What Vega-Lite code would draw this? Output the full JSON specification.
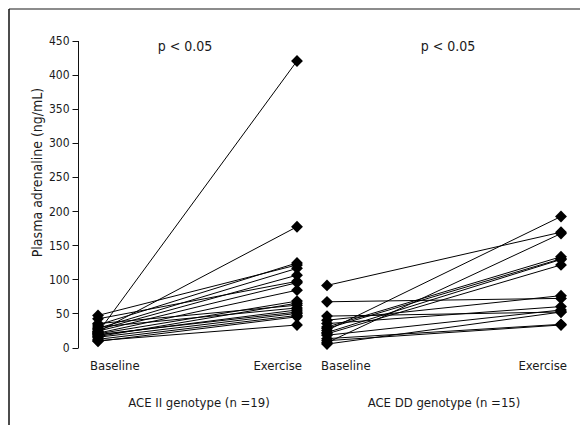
{
  "$schema": "https://vega.github.io/schema/vega-lite/v6.json",
  "width": 571,
  "height": 416,
  "padding": {"left": 9, "top": 9, "right": 0, "bottom": 0},
  "autosize": {"type": "none"},
  "background": "white",
  "config": {
    "view": {"stroke": null},
    "font": "DejaVu Sans Condensed, sans-serif",
    "text": {"font": "DejaVu Sans Condensed, sans-serif", "color": "#1a1a1a", "fontSize": 13}
  },
  "datasets": {
    "ii": [
      {"subject": 1, "time": "Baseline", "value": 47}, {"subject": 1, "time": "Exercise", "value": 121},
      {"subject": 2, "time": "Baseline", "value": 42}, {"subject": 2, "time": "Exercise", "value": 97},
      {"subject": 3, "time": "Baseline", "value": 35}, {"subject": 3, "time": "Exercise", "value": 62},
      {"subject": 4, "time": "Baseline", "value": 33}, {"subject": 4, "time": "Exercise", "value": 124},
      {"subject": 5, "time": "Baseline", "value": 30}, {"subject": 5, "time": "Exercise", "value": 58},
      {"subject": 6, "time": "Baseline", "value": 28}, {"subject": 6, "time": "Exercise", "value": 116},
      {"subject": 7, "time": "Baseline", "value": 26}, {"subject": 7, "time": "Exercise", "value": 106},
      {"subject": 8, "time": "Baseline", "value": 24}, {"subject": 8, "time": "Exercise", "value": 95},
      {"subject": 9, "time": "Baseline", "value": 22}, {"subject": 9, "time": "Exercise", "value": 420},
      {"subject": 10, "time": "Baseline", "value": 23}, {"subject": 10, "time": "Exercise", "value": 177},
      {"subject": 11, "time": "Baseline", "value": 21}, {"subject": 11, "time": "Exercise", "value": 84},
      {"subject": 12, "time": "Baseline", "value": 20}, {"subject": 12, "time": "Exercise", "value": 68},
      {"subject": 13, "time": "Baseline", "value": 19}, {"subject": 13, "time": "Exercise", "value": 52},
      {"subject": 14, "time": "Baseline", "value": 18}, {"subject": 14, "time": "Exercise", "value": 55},
      {"subject": 15, "time": "Baseline", "value": 16}, {"subject": 15, "time": "Exercise", "value": 65},
      {"subject": 16, "time": "Baseline", "value": 15}, {"subject": 16, "time": "Exercise", "value": 50},
      {"subject": 17, "time": "Baseline", "value": 12}, {"subject": 17, "time": "Exercise", "value": 47},
      {"subject": 18, "time": "Baseline", "value": 10}, {"subject": 18, "time": "Exercise", "value": 33},
      {"subject": 19, "time": "Baseline", "value": 9}, {"subject": 19, "time": "Exercise", "value": 45}
    ],
    "dd": [
      {"subject": 1, "time": "Baseline", "value": 91}, {"subject": 1, "time": "Exercise", "value": 169},
      {"subject": 2, "time": "Baseline", "value": 67}, {"subject": 2, "time": "Exercise", "value": 72},
      {"subject": 3, "time": "Baseline", "value": 46}, {"subject": 3, "time": "Exercise", "value": 52},
      {"subject": 4, "time": "Baseline", "value": 40}, {"subject": 4, "time": "Exercise", "value": 76},
      {"subject": 5, "time": "Baseline", "value": 35}, {"subject": 5, "time": "Exercise", "value": 60},
      {"subject": 6, "time": "Baseline", "value": 30}, {"subject": 6, "time": "Exercise", "value": 133},
      {"subject": 7, "time": "Baseline", "value": 28}, {"subject": 7, "time": "Exercise", "value": 130},
      {"subject": 8, "time": "Baseline", "value": 25}, {"subject": 8, "time": "Exercise", "value": 192},
      {"subject": 9, "time": "Baseline", "value": 22}, {"subject": 9, "time": "Exercise", "value": 129},
      {"subject": 10, "time": "Baseline", "value": 20}, {"subject": 10, "time": "Exercise", "value": 121},
      {"subject": 11, "time": "Baseline", "value": 18}, {"subject": 11, "time": "Exercise", "value": 55},
      {"subject": 12, "time": "Baseline", "value": 13}, {"subject": 12, "time": "Exercise", "value": 34},
      {"subject": 13, "time": "Baseline", "value": 10}, {"subject": 13, "time": "Exercise", "value": 33},
      {"subject": 14, "time": "Baseline", "value": 7}, {"subject": 14, "time": "Exercise", "value": 167},
      {"subject": 15, "time": "Baseline", "value": 5}, {"subject": 15, "time": "Exercise", "value": 52}
    ],
    "phases": [
      {"panel": "II", "time": "Baseline"}, {"panel": "II", "time": "Exercise"},
      {"panel": "DD", "time": "Baseline"}, {"panel": "DD", "time": "Exercise"}
    ]
  },
  "layer": [
    {
      "data": {"values": [{"edge": "top"}]},
      "mark": {"type": "rule", "color": "#666", "strokeWidth": 1.5},
      "encoding": {
        "y": {"datum": 1, "type": "quantitative", "scale": {"domain": [0, 1]}, "axis": null}
      }
    },
    {
      "data": {"values": [{"edge": "left"}]},
      "mark": {"type": "rule", "color": "#111", "strokeWidth": 1.5},
      "encoding": {
        "x": {"datum": 0, "type": "quantitative", "scale": {"domain": [0, 1]}, "axis": null}
      }
    },
    {
      "data": {"name": "ii"},
      "encoding": {
        "x": {"field": "time", "type": "nominal", "scale": {"type": "point", "domain": ["Baseline", "Exercise"], "range": [89, 288], "padding": 0}, "axis": null},
        "y": {
          "field": "value", "type": "quantitative",
          "scale": {"domain": [0, 450], "range": [338.5, 31.5], "nice": false, "zero": false},
          "axis": {
            "values": [0, 50, 100, 150, 200, 250, 300, 350, 400, 450],
            "offset": -69,
            "grid": false,
            "domainColor": "#111",
            "tickColor": "#111",
            "tickSize": 6,
            "labelFont": "DejaVu Sans Condensed, sans-serif",
            "labelFontSize": 12,
            "labelColor": "#1a1a1a",
            "labelPadding": 3,
            "title": "Plasma adrenaline (ng/mL)",
            "titleFont": "DejaVu Sans Condensed, sans-serif",
            "titleFontSize": 14,
            "titleFontWeight": "normal",
            "titleColor": "#1a1a1a",
            "titleAngle": -90,
            "titleAlign": "center",
            "titleBaseline": "middle",
            "titleX": -41,
            "titleY": 163
          }
        }
      },
      "layer": [
        {"mark": {"type": "line", "color": "black", "strokeWidth": 1}, "encoding": {"detail": {"field": "subject", "type": "nominal"}}},
        {"mark": {"type": "point", "shape": "diamond", "filled": true, "color": "black", "opacity": 1, "size": 140}}
      ]
    },
    {
      "data": {"name": "dd"},
      "encoding": {
        "x": {"field": "time", "type": "nominal", "scale": {"type": "point", "domain": ["Baseline", "Exercise"], "range": [318, 552], "padding": 0}, "axis": null},
        "y": {"field": "value", "type": "quantitative", "scale": {"domain": [0, 450], "range": [338.5, 31.5], "nice": false, "zero": false}, "axis": null}
      },
      "layer": [
        {"mark": {"type": "line", "color": "black", "strokeWidth": 1}, "encoding": {"detail": {"field": "subject", "type": "nominal"}}},
        {"mark": {"type": "point", "shape": "diamond", "filled": true, "color": "black", "opacity": 1, "size": 140}}
      ]
    },
    {
      "data": {"name": "phases"},
      "transform": [{"filter": "datum.time === 'Baseline'"}],
      "mark": {"type": "text", "align": "left", "baseline": "middle"},
      "encoding": {
        "x": {"field": "panel", "type": "nominal", "scale": {"type": "point", "domain": ["II", "DD"], "range": [81, 312], "padding": 0}, "axis": null},
        "y": {"datum": -27, "type": "quantitative", "scale": {"domain": [0, 450], "range": [338.5, 31.5], "nice": false, "zero": false}, "axis": null},
        "text": {"field": "time"}
      }
    },
    {
      "data": {"name": "phases"},
      "transform": [{"filter": "datum.time === 'Exercise'"}],
      "mark": {"type": "text", "align": "right", "baseline": "middle"},
      "encoding": {
        "x": {"field": "panel", "type": "nominal", "scale": {"type": "point", "domain": ["II", "DD"], "range": [293, 558], "padding": 0}, "axis": null},
        "y": {"datum": -27, "type": "quantitative", "scale": {"domain": [0, 450], "range": [338.5, 31.5], "nice": false, "zero": false}, "axis": null},
        "text": {"field": "time"}
      }
    },
    {
      "data": {"values": [{"genotype": "ACE II genotype (n =19)"}, {"genotype": "ACE DD genotype (n =15)"}]},
      "mark": {"type": "text", "align": "center", "baseline": "middle"},
      "encoding": {
        "x": {"field": "genotype", "type": "nominal", "scale": {"type": "point", "domain": ["ACE II genotype (n =19)", "ACE DD genotype (n =15)"], "range": [190, 435], "padding": 0}, "axis": null},
        "y": {"datum": -81, "type": "quantitative", "scale": {"domain": [0, 450], "range": [338.5, 31.5], "nice": false, "zero": false}, "axis": null},
        "text": {"field": "genotype"}
      }
    },
    {
      "data": {"values": [{"genotype": "II", "label": "p < 0.05"}, {"genotype": "DD", "label": "p < 0.05"}]},
      "mark": {"type": "text", "align": "center", "baseline": "middle", "fontSize": 14},
      "encoding": {
        "x": {"field": "genotype", "type": "nominal", "scale": {"type": "point", "domain": ["II", "DD"], "range": [176, 439], "padding": 0}, "axis": null},
        "y": {"datum": 440.5, "type": "quantitative", "scale": {"domain": [0, 450], "range": [338.5, 31.5], "nice": false, "zero": false}, "axis": null},
        "text": {"field": "label"}
      }
    }
  ],
  "resolve": {"scale": {"x": "independent", "y": "independent"}}
}
